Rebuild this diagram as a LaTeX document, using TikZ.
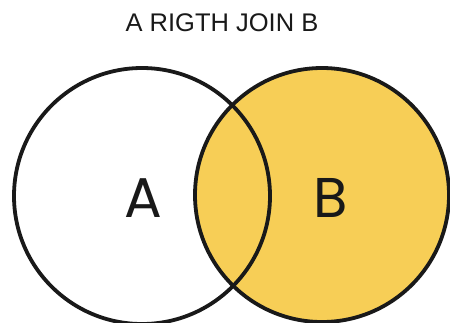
\documentclass[tikz,border=0pt]{standalone}
\usepackage{fontspec}
\setmainfont{Liberation Sans}
\newfontfamily\letterfont{Poppins}
\definecolor{setyellow}{RGB}{247,206,86}
\definecolor{ringcol}{RGB}{25,25,25}
\begin{document}
\begin{tikzpicture}[x=1pt,y=-1pt,
  ring/.style={circle, draw=ringcol, line width=3.8pt, minimum size=#1, inner sep=0pt},
  setlabel/.style={font=\letterfont\fontsize{56}{56}\selectfont, text=ringcol, inner sep=0pt},
  titletext/.style={font=\fontsize{25.5}{25.5}\selectfont, text=black!90, inner sep=0pt}]
\useasboundingbox (0,0) rectangle (450,322);
\clip (0,0) rectangle (450,322);
\fill[white] (0,0) rectangle (450,322);
\node[ring=254pt, fill=setyellow] (B) at (322,195) {};
\node[ring=256pt] (A) at (142,196) {};
\node[setlabel] (la) at (143,198) {A};
\node[setlabel] (lb) at (331,198) {B};
\node[titletext] (title) at (222,23) {A RIGTH JOIN B};
\end{tikzpicture}
\end{document}
